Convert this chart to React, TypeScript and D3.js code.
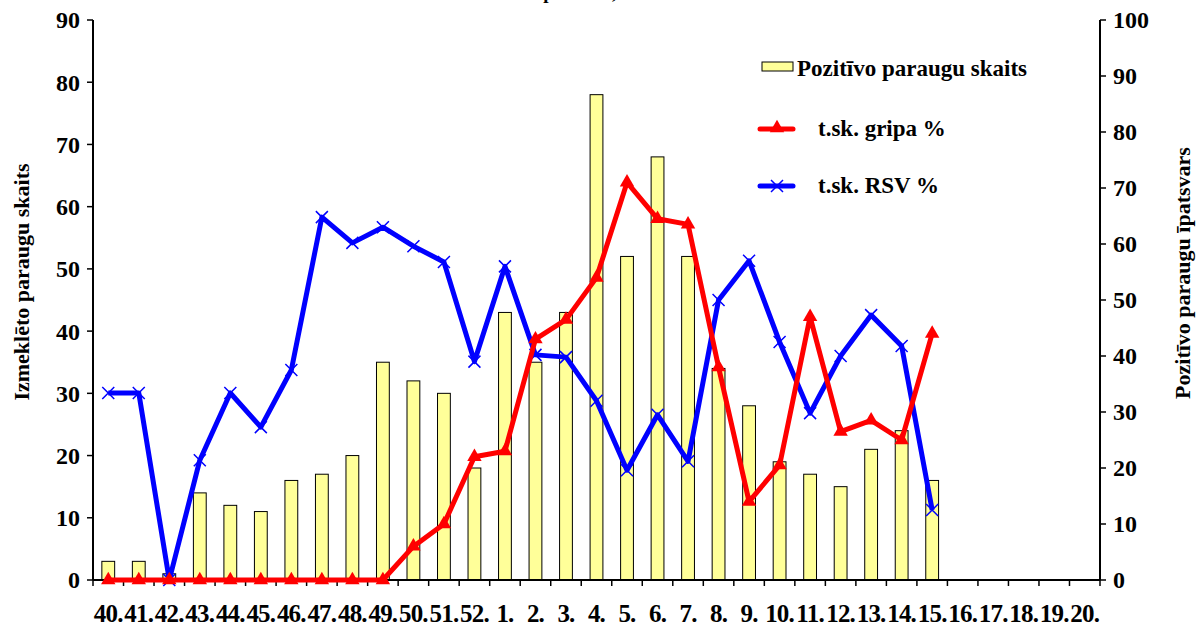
import React from "react";
import * as d3 from "d3";

// weeks of the season
const weeks = [
  "40.", "41.", "42.", "43.", "44.", "45.", "46.", "47.", "48.", "49.", "50.", "51.", "52.",
  "1.", "2.", "3.", "4.", "5.", "6.", "7.", "8.", "9.", "10.", "11.", "12.", "13.", "14.", "15.",
  "16.", "17.", "18.", "19.", "20.",
];
// Pozitīvo paraugu skaits (left axis)
const counts = [3, 3, 1, 14, 12, 11, 16, 17, 20, 35, 32, 30, 18, 43, 35, 43, 78, 52, 68, 52, 34, 28, 19, 17, 15, 21, 24, 16];
// t.sk. gripa % (right axis)
const flu = [0, 0, 0, 0, 0, 0, 0, 0, 0, 0, 6, 10, 22, 23, 43, 46.5, 54, 71, 64.5, 63.5, 38, 14, 20.5, 47, 26.5, 28.5, 25, 44];
// t.sk. RSV % (right axis)
const rsv = [33.4, 33.4, 0, 21.4, 33.4, 27.3, 37.5, 64.8, 60.2, 63, 59.6, 56.8, 39, 56, 40.2, 39.8, 32, 19.6, 29.5, 21.2, 50, 57, 42.5, 29.8, 40, 47.3, 41.8, 12.5];

const leftTicks = d3.range(0, 91, 10);
const rightTicks = d3.range(0, 101, 10);

const W = 1200;
const H = 628;
const m = { left: 93, right: 100, top: 20, bottom: 48 };
const font = "'Liberation Serif', 'Times New Roman', serif";

export default function App() {
  const x = d3.scaleBand().domain(weeks).range([m.left, W - m.right]);
  const yL = d3.scaleLinear().domain([0, 90]).range([H - m.bottom, m.top]);
  const yR = d3.scaleLinear().domain([0, 100]).range([H - m.bottom, m.top]);
  const cx = (i: number) => (x(weeks[i]) as number) + x.bandwidth() / 2;
  const bw = x.bandwidth() * 0.42;
  const y0 = yL(0);

  const line = d3.line<number>().x((_, i) => cx(i)).y((d) => yR(d));
  const tri = d3.symbol(d3.symbolTriangle, 90)() as string;
  const cross = "M-6,-6L6,6M-6,6L6,-6";

  return (
    <svg width={W} height={H} style={{ position: "absolute", left: 0, top: 0 }} fontFamily={font} fontWeight="bold">
      <rect width={W} height={H} fill="#fff" />
      {/* title sits above the frame, only its descenders show, as in the source */}
      <text x={538} y={-1.5} fontSize={19}>īpatsvars, %</text>

      {/* bars */}
      {counts.map((v, i) => (
        <rect key={i} x={cx(i) - bw / 2} y={yL(v)} width={bw} height={y0 - yL(v)}
          fill="#FFFF99" stroke="#000" strokeWidth={1} />
      ))}

      {/* axes */}
      <line x1={m.left} x2={m.left} y1={m.top} y2={y0} stroke="#000" strokeWidth={2} />
      <line x1={W - m.right} x2={W - m.right} y1={m.top} y2={y0} stroke="#000" strokeWidth={2} />
      <line x1={m.left} x2={W - m.right} y1={y0} y2={y0} stroke="#000" strokeWidth={2} />
      {leftTicks.map((t) => (
        <g key={"l" + t}>
          <line x1={m.left - 6} x2={m.left} y1={yL(t)} y2={yL(t)} stroke="#000" strokeWidth={1.5} />
          <text x={m.left - 13} y={yL(t)} dy="0.35em" textAnchor="end" fontSize={24}>{t}</text>
        </g>
      ))}
      {rightTicks.map((t) => (
        <g key={"r" + t}>
          <line x1={W - m.right} x2={W - m.right + 6} y1={yR(t)} y2={yR(t)} stroke="#000" strokeWidth={1.5} />
          <text x={W - m.right + 13} y={yR(t)} dy="0.35em" fontSize={24}>{t}</text>
        </g>
      ))}
      {weeks.map((w, i) => (
        <g key={w}>
          <line x1={x(w)} x2={x(w)} y1={y0} y2={y0 + 6} stroke="#000" strokeWidth={1.5} />
          <text x={cx(i)} y={622} textAnchor="middle" fontSize={25} letterSpacing={-0.8}>{w}</text>
        </g>
      ))}
      <line x1={W - m.right} x2={W - m.right} y1={y0} y2={y0 + 6} stroke="#000" strokeWidth={1.5} />

      <text transform="translate(29,282) rotate(-90)" textAnchor="middle" fontSize={22}>
        Izmeklēto paraugu skaits
      </text>
      <text transform="translate(1190,273) rotate(-90)" textAnchor="middle" fontSize={22}>
        Pozitīvo paraugu īpatsvars
      </text>

      {/* RSV line */}
      <path d={line(rsv) as string} fill="none" stroke="#0000FF" strokeWidth={5} strokeLinejoin="round" />
      {rsv.map((v, i) => (
        <path key={"x" + i} d={cross} transform={`translate(${cx(i)},${yR(v)})`}
          stroke="#0000FF" strokeWidth={1.5} />
      ))}

      {/* flu line */}
      <path d={line(flu) as string} fill="none" stroke="#FF0000" strokeWidth={5} strokeLinejoin="round" />
      {flu.map((v, i) => (
        <path key={"t" + i} d={tri} transform={`translate(${cx(i)},${yR(v)})`} fill="#FF0000" />
      ))}

      {/* legend */}
      <rect x={762} y={62} width={31} height={9} fill="#FFFF99" stroke="#000" strokeWidth={1} />
      <text x={797} y={76} fontSize={23}>Pozitīvo paraugu skaits</text>
      <line x1={760} x2={793} y1={129} y2={129} stroke="#FF0000" strokeWidth={5} strokeLinecap="round" />
      <path d={tri} transform="translate(777,128)" fill="#FF0000" />
      <text x={818} y={136} fontSize={23}>t.sk. gripa %</text>
      <line x1={760} x2={793} y1={186} y2={186} stroke="#0000FF" strokeWidth={5} strokeLinecap="round" />
      <path d={cross} transform="translate(777,186)" stroke="#0000FF" strokeWidth={1.5} />
      <text x={818} y={193} fontSize={23}>t.sk. RSV %</text>
    </svg>
  );
}
